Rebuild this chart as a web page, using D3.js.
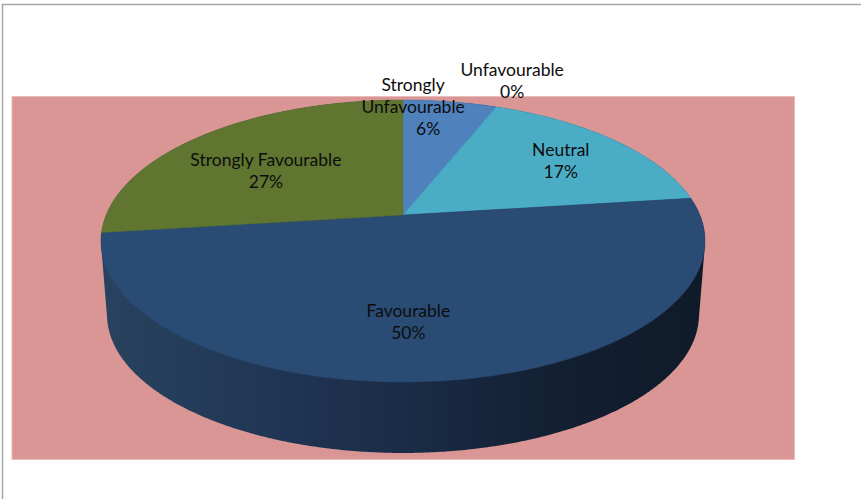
<!DOCTYPE html>
<html>
<head>
<meta charset="utf-8">
<script src="https://cdn.jsdelivr.net/npm/d3@7"></script>
<style>
  html, body { margin: 0; padding: 0; background: #ffffff; }
  svg { display: block; }
  text { font-family: Lato, "Open Sans", sans-serif; font-size: 17.5px; fill: #0d0d0d; }
</style>
</head>
<body>
<svg id="chart" width="861" height="499"></svg>
<script>
// ---- data ----
const categories = ["Strongly Unfavourable", "Unfavourable", "Neutral", "Favourable", "Strongly Favourable"];
const values = [6, 0, 17, 50, 27];
const labelLines = [["Strongly", "Unfavourable", "6%"], ["Unfavourable", "0%"], ["Neutral", "17%"], ["Favourable", "50%"], ["Strongly Favourable", "27%"]];

// ---- styles / layout ----
const colors = ["#4f81bd", "#c0504d", "#4bacc6", "#2a4b73", "#5f7530"];
const labelLayout = [ // radius factor, dx, dy, per-line dx
  {r: 1.0, dx: -37, dy: 5, lineDx: [0, 0, 15]},
  {r: 1.1, dx: 8, dy: -17, lineDx: [0, 0]},
  {r: 0.6, dx: 26, dy: -7, lineDx: [0, 0]},
  {r: 0.69, dx: -24, dy: 0, lineDx: [0, 0]},
  {r: 0.65, dx: -3, dy: 10, lineDx: [0, 0]}
];

const svg = d3.select("#chart");

// outer chart frame
svg.append("rect").attr("x", 2.5).attr("y", 4.5).attr("width", 900).attr("height", 540)
  .attr("fill", "#ffffff").attr("stroke", "#a6a6a6").attr("stroke-width", 1.5);

// plot area
svg.append("rect").attr("x", 12).attr("y", 96.5).attr("width", 782.5).attr("height", 363)
  .attr("fill", "#d99694").attr("stroke", "#e8bcbb").attr("stroke-width", 1);

// ---- perspective projection of the pie disk ----
const cx = 403, cy = 215, A = 296.8, B = 136.2, k = -0.1844;
const sigma = 0.98, drop = 74.3;
function projTop(theta, r) {
  const u = r * Math.sin(theta), v = -r * Math.cos(theta);
  const den = 1 + k * v;
  return [cx + A * u / den, cy + B * v / den];
}
function projBottom(theta, r) {
  const p = projTop(theta, r);
  return [cx + sigma * (p[0] - cx), cy + drop + sigma * (p[1] - cy)];
}

const pie = d3.pie().sort(null).value(d => d).startAngle(0).endAngle(2 * Math.PI);
const arcs = pie(values);
const line = d3.line();

// ---- side wall: convex hull of top and bottom rims, gradient fill ----
const defs = svg.append("defs");
const grad = defs.append("linearGradient").attr("id", "sideGrad")
  .attr("gradientUnits", "userSpaceOnUse")
  .attr("x1", 100).attr("y1", 0).attr("x2", 705).attr("y2", 0);
const stops = [[0, "#28435f"], [0.33, "#1f3452"], [0.58, "#182841"], [0.75, "#132033"], [1, "#0f1a29"]];
stops.forEach(s => grad.append("stop").attr("offset", s[0]).attr("stop-color", s[1]));

const rimPts = [];
for (let i = 0; i < 720; i++) {
  const th = 2 * Math.PI * i / 720;
  rimPts.push(projTop(th, 1), projBottom(th, 1));
}
const hull = d3.polygonHull(rimPts);
svg.append("path").attr("d", line(hull) + "Z").attr("fill", "url(#sideGrad)");

// ---- top face slices ----
const topG = svg.append("g");
arcs.forEach((s, i) => {
  if (s.endAngle - s.startAngle <= 0) return;
  const n = Math.max(4, Math.ceil((s.endAngle - s.startAngle) / 0.01));
  const pts = [projTop(0, 0)];
  for (let j = 0; j <= n; j++) {
    const th = s.startAngle + (s.endAngle - s.startAngle) * j / n;
    pts.push(projTop(th, 1));
  }
  topG.append("path").attr("d", line(pts) + "Z")
    .attr("fill", colors[i]).attr("stroke", colors[i]).attr("stroke-width", 0.5);
});

// ---- labels ----
const lineH = 22;
arcs.forEach((s, i) => {
  const L = labelLayout[i];
  const midA = (s.startAngle + s.endAngle) / 2;
  const p = projTop(midA, L.r);
  const lines = labelLines[i];
  const x0 = p[0] + L.dx, y0 = p[1] + L.dy;
  const startY = y0 - (lines.length - 1) * lineH / 2;
  const t = svg.append("text").attr("text-anchor", "middle");
  lines.forEach((ln, j) => {
    t.append("tspan").attr("x", x0 + L.lineDx[j]).attr("y", startY + j * lineH)
      .attr("dy", "0.35em").text(ln);
  });
});
</script>
</body>
</html>
